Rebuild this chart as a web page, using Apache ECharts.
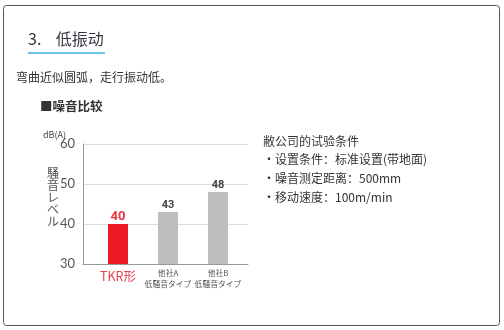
<!DOCTYPE html>
<html><head><meta charset="utf-8">
<script src="https://cdn.jsdelivr.net/npm/echarts@6/dist/echarts.min.js"></script>
<style>html,body{margin:0;padding:0;background:#fff}#c{width:504px;height:330px}</style>
</head><body><div id="c"></div>
<script>
const categories = ['TKR形', '他社A\n低騒音タイプ', '他社B\n低騒音タイプ'];
const values = [40, 43, 48];
const yTicks = [30, 40, 50, 60];
const titleText = '3.    低振动';
const bodyText = '弯曲近似圆弧，走行振动低。';
const sectionText = '■噪音比较';
const condLines = ['敝公司的试验条件', '・设置条件：标准设置(带地面)', '・噪音测定距离：500mm', '・移动速度：100m/min'];
const yName = '騒音レベル';
const unitText = 'dB(A)';

const FONT = '"Noto Sans CJK SC", "Noto Sans CJK JP", sans-serif';
const chart = echarts.init(document.getElementById('c'), null, {renderer: 'canvas'});

const graphics = [
  {type: 'rect', shape: {x: 3.5, y: 5.5, width: 496, height: 320, r: 3}, style: {fill: '#fff', stroke: '#555', lineWidth: 1}, z: -10, silent: true},
  {type: 'text', left: 28, top: 31, style: {text: titleText, font: '16px ' + FONT, fill: '#3a3340'}},
  {type: 'rect', shape: {x: 28, y: 52, width: 77, height: 2}, style: {fill: '#6cc4ee'}},
  {type: 'text', left: 16, top: 71, style: {text: bodyText, font: '12px ' + FONT, fill: '#333'}},
  {type: 'text', left: 40, top: 100, style: {text: sectionText, font: 'bold 12.5px ' + FONT, fill: '#333'}},
  {type: 'text', left: 43, top: 130, style: {text: unitText, font: '9px ' + FONT, fill: '#444'}},
  {type: 'text', left: 47, top: 167, style: {text: yName.split('').join('\n'), font: '12px ' + FONT, fill: '#555', lineHeight: 12}}
];
condLines.forEach((t, i) => {
  graphics.push({type: 'text', left: 263, top: 135 + i * 18.7, style: {text: t, font: '12px ' + FONT, fill: '#333'}});
});

chart.setOption({
  animation: false,
  graphic: graphics,
  grid: {left: 83, top: 144, width: 165, height: 120, containLabel: false},
  xAxis: {
    type: 'value', min: -0.7, max: 2.6,
    axisLine: {show: true, onZero: false, lineStyle: {color: '#999', width: 1}},
    axisTick: {show: false},
    splitLine: {show: false},
    axisLabel: {
      customValues: [0, 1, 2], margin: 4, hideOverlap: false, showMinLabel: true, showMaxLabel: true,
      formatter: (v) => {
        const i = Math.round(v);
        const c = categories[i];
        if (i === 0) return '{r|' + c + '}';
        return c.split('\n').map(s => '{g|' + s + '}').join('\n');
      },
      rich: {
        r: {fontSize: 12.5, color: '#e8404a', fontFamily: FONT, lineHeight: 16},
        g: {fontSize: 7.8, color: '#555', fontFamily: FONT, lineHeight: 10.5}
      }
    }
  },
  yAxis: {
    type: 'value', min: yTicks[0], max: yTicks[yTicks.length - 1], interval: 10,
    axisLine: {show: true, onZero: false, lineStyle: {color: '#999'}},
    axisTick: {show: false},
    splitLine: {show: true, lineStyle: {color: '#ddd'}},
    axisLabel: {fontSize: 13, color: '#555', margin: 8, fontFamily: 'Lato, sans-serif'}
  },
  series: [{
    type: 'bar', barWidth: 20,
    data: values.map((v, i) => ({
      value: [i, v],
      itemStyle: {color: i === 0 ? '#ed1c24' : '#bdbdbd'},
      label: i === 0
        ? {color: '#e8323c', fontSize: 13}
        : {color: '#444', fontSize: 11}
    })),
    label: {show: true, position: 'top', distance: 1, fontWeight: 'bold', fontFamily: 'Roboto, sans-serif',
      formatter: (p) => String(p.value[1])}
  }]
});
</script></body></html>
